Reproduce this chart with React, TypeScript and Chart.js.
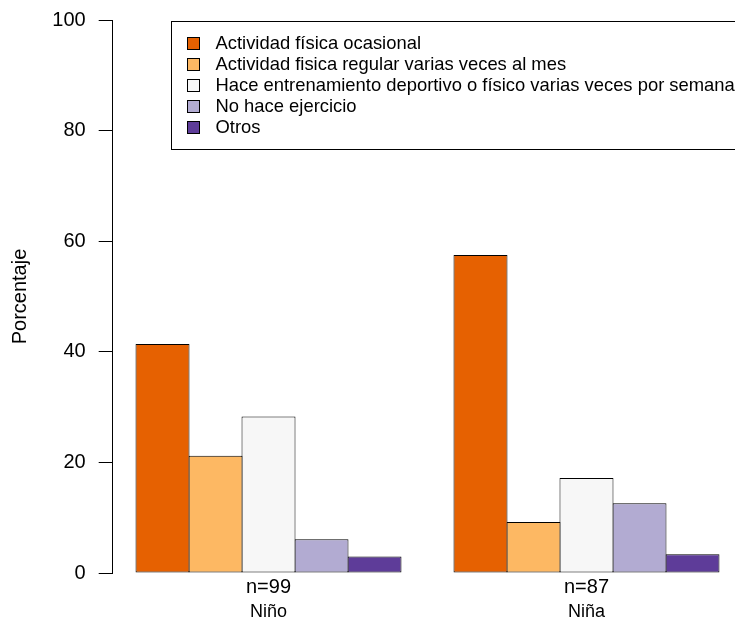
import React, { useEffect, useRef } from 'react';
import { Chart, registerables } from 'chart.js';

Chart.register(...registerables);

// ---- data ----
const groupNames = ['Niño', 'Niña'];
const sampleLabels = ['n=99', 'n=87'];
const groupCenters = [3.5, 9.5]; // barplot positions (bar width = 1 unit, 1 unit gap between groups)
const categories = [
  'Actividad física ocasional',
  'Actividad fisica regular varias veces al mes',
  'Hace entrenamiento deportivo o físico varias veces por semana',
  'No hace ejercicio',
  'Otros',
];
const ocasional = [41.4, 57.5];
const regular = [21.2, 9.2];
const entrenamiento = [28.3, 17.2];
const noEjercicio = [6.1, 12.6];
const otros = [3.0, 3.4];
const seriesValues = [ocasional, regular, entrenamiento, noEjercicio, otros];
const seriesColors = ['#E66101', '#FDB863', '#F7F7F7', '#B2ABD2', '#5E3C99'];
const yTickValues = [0, 20, 40, 60, 80, 100];
const xMin = 0.56;
const xMax = 12.44;

const FONT = "'Liberation Sans', Arial, Helvetica, sans-serif";
const CANVAS_W = 760;
const CANVAS_H = 621;

const boxLegendPlugin = {
  id: 'boxLegend',
  afterDraw(chart: any) {
    const ctx = chart.ctx as CanvasRenderingContext2D;
    const area = chart.chartArea;
    const left = Math.round(area.left + 58) + 0.5;
    const top = Math.round(area.top + 1) + 0.5;
    const rowH = 21;
    const items = chart.data.datasets;
    const bottom = top + 22 + rowH * (items.length - 1) + 22;
    ctx.save();
    ctx.fillStyle = '#fff';
    ctx.fillRect(left, top, CANVAS_W - left + 10, bottom - top);
    ctx.strokeStyle = '#000';
    ctx.lineWidth = 1;
    ctx.strokeRect(left, top, CANVAS_W - left + 10, bottom - top);
    ctx.font = `18.4px ${FONT}`;
    ctx.textBaseline = 'middle';
    ctx.textAlign = 'left';
    items.forEach((ds: any, i: number) => {
      const cy = top + 22 + rowH * i;
      const bx = left + 16;
      ctx.fillStyle = ds.backgroundColor;
      ctx.fillRect(bx, cy - 6, 12, 12);
      ctx.strokeStyle = '#000';
      ctx.strokeRect(bx, cy - 6, 12, 12);
      ctx.fillStyle = '#000';
      ctx.fillText(ds.label, left + 44, cy);
    });
    ctx.restore();
  },
};

export default function App() {
  const ref = useRef<HTMLCanvasElement>(null);

  useEffect(() => {
    const canvas = ref.current;
    if (!canvas) return;
    const chart = new Chart(canvas, {
      type: 'bar',
      data: {
        datasets: seriesValues.map((vals, i) => ({
          label: categories[i],
          data: vals.map((v, j) => ({ x: groupCenters[j], y: v })),
          backgroundColor: seriesColors[i],
          borderColor: '#000',
          borderWidth: 1,
          borderSkipped: false,
          categoryPercentage: 5 / 6,
          barPercentage: 54 / 53,
        })),
      },
      options: {
        responsive: false,
        animation: false,
        devicePixelRatio: 1,
        layout: { padding: { left: 0, top: 20, right: CANVAS_W - 742.3, bottom: 0 } },
        plugins: {
          legend: { display: false },
          tooltip: { enabled: false },
        },
        scales: {
          x: {
            type: 'linear',
            position: 'bottom',
            weight: 0,
            min: xMin,
            max: xMax,
            bounds: 'data',
            offset: false,
            grid: { display: false, drawTicks: false },
            border: { display: false },
            afterBuildTicks: (s: any) => {
              s.ticks = groupCenters.map((v) => ({ value: v }));
            },
            afterFit: (s: any) => {
              s.height = 24;
              s.paddingLeft = 0;
              s.paddingRight = 0;
            },
            ticks: {
              autoSkip: false,
              maxRotation: 0,
              padding: 2,
              color: '#000',
              font: { family: FONT, size: 20 },
              callback: (_v: any, i: number) => sampleLabels[i],
            },
          },
          x2: {
            type: 'linear',
            position: 'bottom',
            weight: 1,
            min: xMin,
            max: xMax,
            bounds: 'data',
            offset: false,
            grid: { display: false, drawTicks: false },
            border: { display: false },
            afterBuildTicks: (s: any) => {
              s.ticks = groupCenters.map((v) => ({ value: v }));
            },
            afterFit: (s: any) => {
              s.height = 24;
              s.paddingLeft = 0;
              s.paddingRight = 0;
            },
            ticks: {
              autoSkip: false,
              maxRotation: 0,
              padding: 4.5,
              color: '#000',
              font: { family: FONT, size: 18 },
              callback: (_v: any, i: number) => groupNames[i],
            },
          },
          y: {
            type: 'linear',
            min: 0,
            max: 100,
            afterBuildTicks: (s: any) => {
              s.ticks = yTickValues.map((v) => ({ value: v }));
            },
            afterFit: (s: any) => {
              s.width = 112.7;
              s.paddingTop = 0;
              s.paddingBottom = 0;
            },
            grid: {
              display: true,
              drawOnChartArea: false,
              drawTicks: true,
              tickLength: 14,
              color: '#000',
              lineWidth: 1,
            },
            border: { display: true, color: '#000', width: 1 },
            ticks: {
              padding: 13,
              color: '#000',
              font: { family: FONT, size: 20 },
            },
            title: {
              display: true,
              text: 'Porcentaje',
              color: '#000',
              font: { family: FONT, size: 20 },
              padding: { top: 8, bottom: 0 },
            },
          },
        },
      },
      plugins: [boxLegendPlugin],
    } as any);
    return () => chart.destroy();
  }, []);

  return (
    <div
      style={{
        position: 'fixed',
        left: 0,
        top: 0,
        width: 735,
        height: 621,
        overflow: 'hidden',
        background: '#fff',
      }}
    >
      <canvas
        ref={ref}
        width={CANVAS_W}
        height={CANVAS_H}
        style={{ display: 'block', width: CANVAS_W, height: CANVAS_H }}
      />
    </div>
  );
}
